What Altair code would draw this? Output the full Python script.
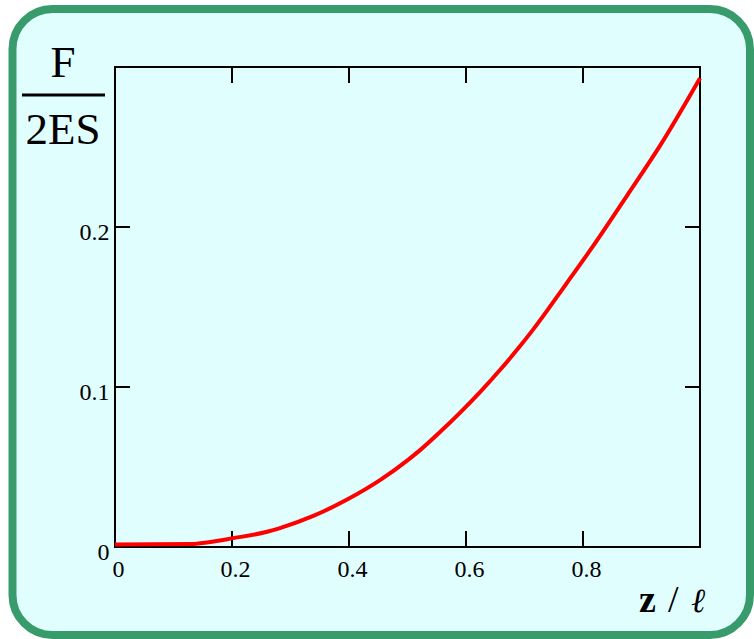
import altair as alt
import pandas as pd

# Force per unit section, F/(2ES), against relative position z/l
z_pos = [0.0, 0.13, 0.16, 0.20, 0.26, 0.282, 0.339, 0.396, 0.453, 0.501,
         0.521, 0.556, 0.590, 0.624, 0.658, 0.689, 0.715, 0.772, 0.818,
         0.875, 0.932, 1.0]
force = [0.0016, 0.0018, 0.003, 0.0054, 0.0095, 0.0118, 0.0194, 0.0295,
         0.0418, 0.0545, 0.0604, 0.0720, 0.0840, 0.0968, 0.1106, 0.124,
         0.136, 0.1648, 0.1885, 0.2195, 0.251, 0.293]

x_ticks = [0.2, 0.4, 0.6, 0.8]
y_ticks = [0.1, 0.2]
x_labels = [0, 0.2, 0.4, 0.6, 0.8]
y_labels = [0, 0.1, 0.2]

W, H = 585, 480
SERIF = "Liberation Serif"
BG = "#e1fefe"
GREEN = "#389b6c"

xs = alt.Scale(domain=[0, 1], nice=False, zero=False)
ys = alt.Scale(domain=[0, 0.3], nice=False, zero=False)

x_axis = alt.Axis(
    values=x_labels, ticks=False, domain=False, grid=False, title=None,
    labelFont=SERIF, labelFontSize=24, labelColor="black", zindex=1,
    labelPadding=10, labelOffset=3, labelFlush=False, format="~g")
y_axis = alt.Axis(
    values=y_labels, ticks=False, domain=False, grid=False, title=None,
    labelFont=SERIF, labelFontSize=24, labelColor="black", zindex=1,
    labelPadding=6, labelOffset=5, labelFlush=False, format="~g")

curve = pd.DataFrame({"z": z_pos, "f": force})
one = pd.DataFrame({"k": [0]})
xt = pd.DataFrame({"t": x_ticks})
yt = pd.DataFrame({"t": y_ticks})

# rounded green panel behind everything
panel = alt.Chart(one).mark_rect(
    fill=BG, stroke=GREEN, strokeWidth=8, cornerRadius=40
).encode(
    x=alt.value(-102.5), x2=alt.value(635),
    y=alt.value(-58), y2=alt.value(568),
)

line = alt.Chart(curve).mark_line(
    color="#ff0000", strokeWidth=4, interpolate="monotone"
).encode(
    x=alt.X("z:Q", scale=xs, axis=x_axis),
    y=alt.Y("f:Q", scale=ys, axis=y_axis),
)

frame = alt.Chart(one).mark_rect(
    fillOpacity=0, stroke="black", strokeWidth=2
).encode(
    x=alt.X(datum=0, type="quantitative", scale=xs, axis=x_axis),
    x2=alt.datum(1),
    y=alt.Y(datum=0, type="quantitative", scale=ys, axis=y_axis),
    y2=alt.datum(0.3),
)

tick_style = dict(color="black", strokeWidth=2)
bottom_ticks = alt.Chart(xt).mark_rule(**tick_style).encode(
    x=alt.X("t:Q", scale=xs, axis=x_axis), y=alt.value(H), y2=alt.value(H - 16))
top_ticks = alt.Chart(xt).mark_rule(**tick_style).encode(
    x=alt.X("t:Q", scale=xs, axis=x_axis), y=alt.value(0), y2=alt.value(16))
left_ticks = alt.Chart(yt).mark_rule(**tick_style).encode(
    y=alt.Y("t:Q", scale=ys, axis=y_axis), x=alt.value(0), x2=alt.value(15))
right_ticks = alt.Chart(yt).mark_rule(**tick_style).encode(
    y=alt.Y("t:Q", scale=ys, axis=y_axis), x=alt.value(W), x2=alt.value(W - 15))

# y-axis title drawn as a fraction F / 2ES
num = alt.Chart(one).mark_text(
    text="F", font=SERIF, fontSize=45, color="black",
    align="center", baseline="alphabetic"
).encode(x=alt.value(-52), y=alt.value(10))
den = alt.Chart(one).mark_text(
    text="2ES", font=SERIF, fontSize=45, color="black",
    align="center", baseline="alphabetic"
).encode(x=alt.value(-52), y=alt.value(77))
bar = alt.Chart(one).mark_rule(color="black", strokeWidth=3).encode(
    x=alt.value(-93), x2=alt.value(-10), y=alt.value(28))

# x-axis title z / l
zt = alt.Chart(one).mark_text(
    text="z", font=SERIF, fontSize=38, fontWeight="bold", color="black",
    align="left", baseline="alphabetic"
).encode(x=alt.value(524), y=alt.value(545))
slash = alt.Chart(one).mark_text(
    text="/", font=SERIF, fontSize=38, color="black",
    align="left", baseline="alphabetic"
).encode(x=alt.value(553), y=alt.value(545))
ell = alt.Chart(one).mark_text(
    text="\u2113", font="DejaVu Serif", fontSize=34, fontStyle="italic",
    color="black", align="left", baseline="alphabetic"
).encode(x=alt.value(576), y=alt.value(545))

chart = alt.layer(
    panel, frame, bottom_ticks, top_ticks, left_ticks, right_ticks,
    line, bar, num, den, zt, slash, ell
).properties(
    width=W, height=H,
    autosize=alt.AutoSizeParams(type="none"),
    padding={"left": 115, "top": 67, "right": 54, "bottom": 92},
    background="white",
).configure_view(stroke=None, fill=None)

chart.save("out.html", embed_options={"renderer": "svg", "actions": False})
